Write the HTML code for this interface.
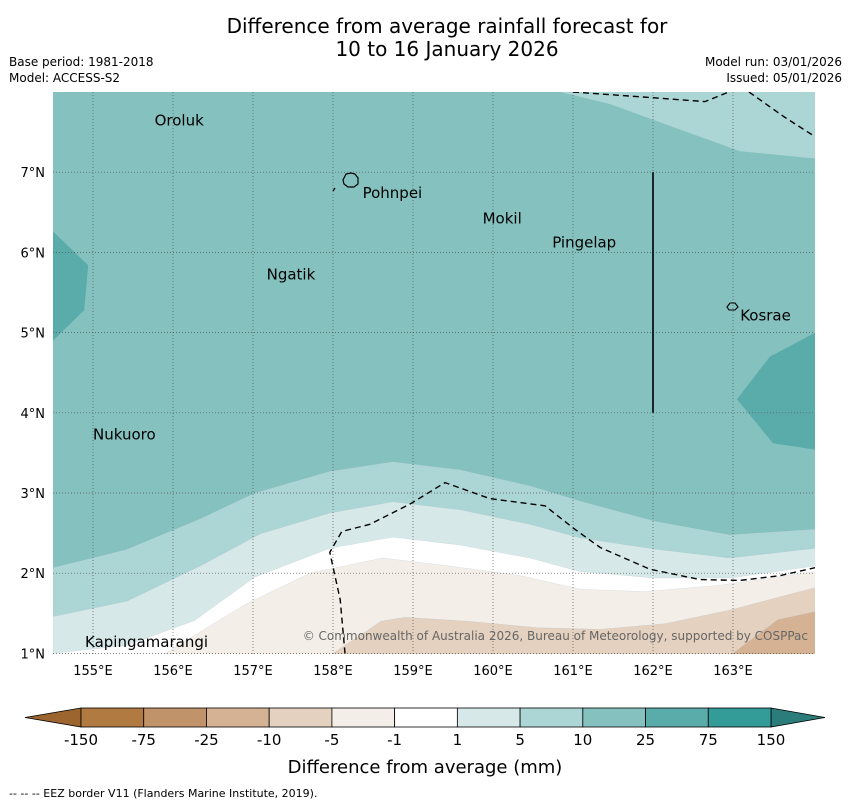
<!DOCTYPE html>
<html><head><meta charset="utf-8"><style>
body{margin:0;background:#fff;width:850px;height:804px;overflow:hidden;font-family:"DejaVu Sans","Liberation Sans",sans-serif}
svg{position:absolute;left:0;top:0}
</style></head><body>
<svg width="850" height="804" xmlns="http://www.w3.org/2000/svg" id="chart" font-family="DejaVu Sans, Liberation Sans, sans-serif">
<text x="447" y="33" font-size="20" text-anchor="middle">Difference from average rainfall forecast for</text>
<text x="447" y="56" font-size="20" text-anchor="middle">10 to 16 January 2026</text>
<text x="9" y="66" font-size="12">Base period: 1981-2018</text>
<text x="9" y="82" font-size="12">Model: ACCESS-S2</text>
<text x="842" y="66" font-size="12" text-anchor="end">Model run: 03/01/2026</text>
<text x="842" y="82" font-size="12" text-anchor="end">Issued: 05/01/2026</text>
<g id="map"></g>
<g id="cbar"></g>
<text x="425" y="773" font-size="18" text-anchor="middle">Difference from average (mm)</text>
<text x="9" y="797" font-size="11">--  --  -- EEZ border V11 (Flanders Marine Institute, 2019).</text>
</svg>
<script>
const lonTicks=[155,156,157,158,159,160,161,162,163];
const latTicks=[1,2,3,4,5,6,7];
const levelLabels=["-150","-75","-25","-10","-5","-1","1","5","10","25","75","150"];
const levelColors=["#b07a40","#c0936a","#d4b293","#e4d1bf","#f3eee8","#ffffff","#d6e9e8","#acd6d5","#84c1bf","#5aacaa","#339b98"];
// contour boundaries [lon,lat]; area below each line filled with its colour
const c10=[[154.5,2.07],[155.4,2.29],[156.34,2.68],[157.02,3.0],[157.96,3.27],[158.75,3.39],[159.59,3.29],[160.46,3.09],[161.09,2.9],[162.02,2.65],[162.96,2.48],[164.03,2.55]];
const c5=[[154.5,1.46],[155.42,1.65],[156.34,2.09],[157.09,2.49],[157.96,2.75],[158.75,2.89],[159.59,2.79],[160.46,2.61],[161.09,2.44],[162.02,2.3],[162.96,2.19],[164.03,2.31]];
const c1=[[154.5,1.0],[155.42,1.1],[156.27,1.41],[157.02,1.95],[157.96,2.31],[158.75,2.45],[159.59,2.35],[160.46,2.19],[161.09,2.02],[162.02,1.94],[162.96,1.94],[164.03,2.09]];
const cm1=[[155.9,1.0],[156.9,1.61],[157.71,2.0],[158.62,2.19],[159.46,2.09],[160.34,1.97],[161.09,1.8],[161.9,1.77],[162.84,1.85],[164.03,2.02]];
const cm5=[[158.0,1.0],[158.6,1.4],[158.9,1.45],[159.7,1.4],[160.56,1.32],[161.34,1.3],[162.15,1.37],[162.96,1.54],[164.03,1.82]];
const cm10=[[163.0,1.0],[163.56,1.42],[164.03,1.52]];
const topRight=[[160.84,8.0],[161.46,7.85],[162.15,7.6],[163.09,7.26],[164.03,7.17],[164.03,8.0]];
const blobL=[[154.5,6.26],[154.94,5.84],[154.89,5.28],[154.5,4.9]];
const blobR=[[164.03,5.0],[163.46,4.7],[163.05,4.17],[163.5,3.62],[164.03,3.54]];
const eezTop1=[[161.0,8.0],[161.84,7.94],[162.65,7.88],[163.02,8.03]];
const eezTop2=[[163.2,8.0],[163.64,7.69],[164.03,7.44]];
const eezLow=[[158.15,1.0],[158.09,1.67],[157.96,2.26],[158.11,2.52],[158.46,2.61],[158.96,2.86],[159.4,3.13],[159.96,2.93],[160.65,2.84],[161.02,2.55],[161.34,2.32],[161.96,2.05],[162.59,1.92],[163.09,1.91],[163.59,1.97],[164.03,2.07]];
const places=[["Oroluk",155.77,7.58],["Pohnpei",158.37,6.68],["Mokil",159.87,6.36],["Pingelap",160.74,6.06],["Ngatik",157.17,5.66],["Kosrae",163.09,5.15],["Nukuoro",155.0,3.67],["Kapingamarangi",154.9,1.08]];
const X0=53,X1=815,Y0=92,Y1=654;
const px=lon=>X0+(lon-154.5)*80;
const py=lat=>Y0+(8-lat)*80.2;
const NS="http://www.w3.org/2000/svg";
const map=document.getElementById('map');
function mk(tag,attrs,parent){const e=document.createElementNS(NS,tag);for(const k in attrs)e.setAttribute(k,attrs[k]);(parent||map).appendChild(e);return e;}
const pts=a=>a.map(p=>px(p[0]).toFixed(1)+','+py(p[1]).toFixed(1)).join(' ');
const clip=mk('clipPath',{id:'mc'});mk('rect',{x:X0,y:Y0,width:X1-X0,height:Y1-Y0},clip);
const g=mk('g',{'clip-path':'url(#mc)'});
let r=mk('rect',{x:X0,y:Y0,width:X1-X0,height:Y1-Y0,fill:levelColors[8]},g);


function below(line,col,name){const a=line.concat([[line[line.length-1][0],0],[line[0][0],0]]);
 const e=mk('polygon',{points:pts(a),fill:col,stroke:'#9ab',"stroke-width":0.3,"stroke-opacity":0.5},g);
 
 }
below(c10,levelColors[7],'contour-5-10');
below(c5,levelColors[6],'contour-1-5');
below(c1,levelColors[5],'contour-neg1-1');
below(cm1,levelColors[4],'contour-neg5-neg1');
below(cm5,levelColors[3],'contour-neg10-neg5');
below(cm10,levelColors[2],'contour-neg25-neg10');
let e=mk('polygon',{points:pts(topRight.concat([[160.84,9]])),fill:levelColors[7]},g);


e=mk('polygon',{points:pts(blobL),fill:levelColors[9]},g);


e=mk('polygon',{points:pts(blobR),fill:levelColors[9]},g);


lonTicks.forEach(l=>{const x=px(l);
 const ln=mk('line',{x1:x,y1:Y0,x2:x,y2:Y1,stroke:'#555',"stroke-width":0.7,"stroke-dasharray":"1,2"},g);
 
 
 const t=mk('text',{x:x,y:675,"font-size":13,"text-anchor":"middle"});t.textContent=l+'°E';
 
 });
latTicks.forEach(l=>{const y=py(l);
 const ln=mk('line',{x1:X0,y1:y,x2:X1,y2:y,stroke:'#555',"stroke-width":0.7,"stroke-dasharray":"1,2"},g);
 
 
 const t=mk('text',{x:45,y:y+5,"font-size":13,"text-anchor":"end"});t.textContent=l+'°N';
 
 });
[eezTop1,eezTop2,eezLow].forEach(a=>{const p=mk('polyline',{points:pts(a),fill:'none',stroke:'#000',"stroke-width":1.4,"stroke-dasharray":"6,4"},g);
 
 });
e=mk('line',{x1:px(162),y1:py(7),x2:px(162),y2:py(4),stroke:'#000',"stroke-width":1.6},g);


e=mk('path',{d:'M343,180 l3,-6 l5,-1 l4,1 l3,4 l0,6 l-4,3 l-6,0 l-4,-3 z M333,191 l2,-3',fill:'none',stroke:'#000',"stroke-width":1.2},g);


e=mk('path',{d:'M727,307 l3,-4 l5,0 l3,4 l-3,3 l-6,0 z',fill:'none',stroke:'#000',"stroke-width":1.1},g);


places.forEach(p=>{const t=mk('text',{x:px(p[1]),y:py(p[2]),"font-size":15},g);t.textContent=p[0];
 
 });
e=mk('text',{x:808,y:640,"font-size":12,fill:'#666',"text-anchor":"end"},g);e.textContent='© Commonwealth of Australia 2026, Bureau of Meteorology, supported by COSPPac';


// colorbar
const cb=document.getElementById('cbar');
const CX0=81,CX1=771,CY0=708,CY1=727,W=(CX1-CX0)/levelColors.length;
e=mk('polygon',{points:`${CX0},${CY0} 25,${(CY0+CY1)/2} ${CX0},${CY1}`,fill:'#9c6530',stroke:'#000',"stroke-width":0.8},cb);


e=mk('polygon',{points:`${CX1},${CY0} 825,${(CY0+CY1)/2} ${CX1},${CY1}`,fill:'#2b7d7b',stroke:'#000',"stroke-width":0.8},cb);


levelColors.forEach((c,i)=>{const b=mk('rect',{x:CX0+i*W,y:CY0,width:W,height:CY1-CY0,fill:c,stroke:'#000',"stroke-width":0.8},cb);
 
 });
levelLabels.forEach((l,i)=>{const t=mk('text',{x:CX0+i*W,y:745,"font-size":15,"text-anchor":"middle"},cb);t.textContent=l;
 
 });
</script>
</body></html>
